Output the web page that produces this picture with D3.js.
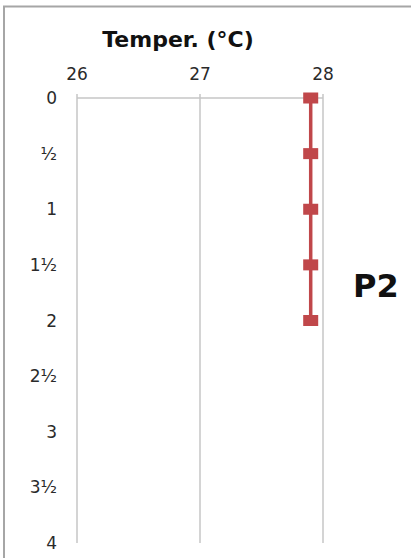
<!DOCTYPE html>
<html>
<head>
<meta charset="utf-8">
<script src="https://cdn.jsdelivr.net/npm/d3@7"></script>
<style>
  html, body { margin: 0; padding: 0; background: #fff; }
  svg { display: block; }
</style>
</head>
<body>
<svg id="chart" width="411" height="558"></svg>
<script>
// Temperature profile by depth, station P2
const depths = [0, 0.5, 1, 1.5, 2];
const temps = [27.9, 27.9, 27.9, 27.9, 27.9];
const xTicks = [26, 27, 28];
const yTicks = [0, 0.5, 1, 1.5, 2, 2.5, 3, 3.5, 4];
const yTickLabels = ["0", "½", "1", "1½", "2", "2½", "3", "3½", "4"];
const title = "Temper. (°C)";
const stationLabel = "P2";

const svg = d3.select("#chart");
const font = "'DejaVu Sans', Verdana, sans-serif";

// Outer frame (top and left edges visible)
svg.append("path")
  .attr("d", "M4,558 L4,6.5 L411,6.5")
  .attr("fill", "none")
  .attr("stroke", "#a6a6a6")
  .attr("stroke-width", 2);

const x = d3.scaleLinear().domain([26, 28]).range([77, 323]);
const y = d3.scaleLinear().domain([0, 4]).range([98, 543]);

// Vertical gridlines
svg.append("g")
  .selectAll("line")
  .data(xTicks)
  .join("line")
  .attr("x1", d => x(d)).attr("x2", d => x(d))
  .attr("y1", y(0) - 4).attr("y2", y(4))
  .attr("stroke", "#c6c6c6")
  .attr("stroke-width", 1.5);

// Top axis line
svg.append("line")
  .attr("x1", x(26)).attr("x2", x(28))
  .attr("y1", y(0)).attr("y2", y(0))
  .attr("stroke", "#c6c6c6")
  .attr("stroke-width", 1.5);

// X tick labels
svg.append("g")
  .selectAll("text")
  .data(xTicks)
  .join("text")
  .attr("x", d => x(d))
  .attr("y", 80)
  .attr("text-anchor", "middle")
  .attr("font-family", font)
  .attr("font-size", 17)
  .attr("fill", "#2a2a2a")
  .text(d => d);

// Y tick labels
svg.append("g")
  .selectAll("text")
  .data(yTicks)
  .join("text")
  .attr("x", 57)
  .attr("y", d => y(d))
  .attr("dy", "0.36em")
  .attr("text-anchor", "end")
  .attr("font-family", font)
  .attr("font-size", 17)
  .attr("fill", "#2a2a2a")
  .text((d, i) => yTickLabels[i]);

// Title
svg.append("text")
  .attr("x", 178)
  .attr("y", 47)
  .attr("text-anchor", "middle")
  .attr("font-family", font)
  .attr("font-weight", "bold")
  .attr("font-size", 22)
  .attr("fill", "#111")
  .text(title);

// Profile line
const line = d3.line()
  .x((d, i) => x(temps[i]))
  .y(d => y(d));

svg.append("path")
  .datum(depths)
  .attr("d", line)
  .attr("fill", "none")
  .attr("stroke", "#c0474a")
  .attr("stroke-width", 3.5);

// Square markers
svg.append("g")
  .selectAll("rect")
  .data(depths)
  .join("rect")
  .attr("x", (d, i) => x(temps[i]) - 7.5)
  .attr("y", d => y(d) - 5.5)
  .attr("width", 15)
  .attr("height", 11)
  .attr("fill", "#c0474a");

// Station label
svg.append("text")
  .attr("x", 353)
  .attr("y", 297)
  .attr("font-family", font)
  .attr("font-weight", "bold")
  .attr("font-size", 32)
  .attr("fill", "#111")
  .text(stationLabel);
</script>
</body>
</html>
